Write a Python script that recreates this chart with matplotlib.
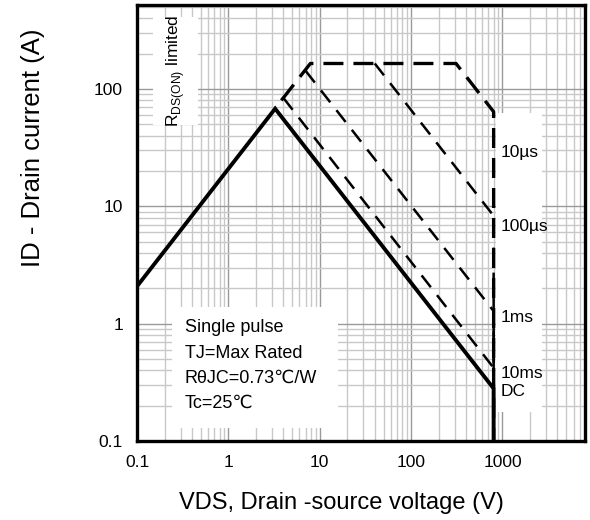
import matplotlib
matplotlib.use('Agg')
import matplotlib.pyplot as plt
from matplotlib.patches import Rectangle
from matplotlib.ticker import LogLocator, FixedLocator, NullFormatter

plt.rcParams['font.family'] = ['Liberation Sans', 'DejaVu Sans']

# SOA curves (V, A)
dc_v = [0.1, 3.25, 800, 800]
dc_i = [2.08, 68, 0.28, 0.1]
us10_v = [3.8, 7.9, 310, 800, 800]
us10_i = [80, 165, 165, 64, 0.1]
us100_v = [40, 800, 800]
us100_i = [165, 8.3, 0.1]
ms1_v = [7.0, 800, 800]
ms1_i = [143, 1.28, 0.1]
ms10_v = [4.0, 800, 800]
ms10_i = [84, 0.42, 0.1]

curve_labels = ['10µs', '100µs', '1ms', '10ms', 'DC']
x_ticks = [0.1, 1, 10, 100, 1000]
x_ticklabels = ['0.1', '1', '10', '100', '1000']
y_ticks = [0.1, 1, 10, 100]
y_ticklabels = ['0.1', '1', '10', '100']
note_lines = ['Single pulse', 'TJ=Max Rated', 'RθJC=0.73℃/W', 'Tc=25℃']

fig = plt.figure(figsize=(5.9, 5.2), dpi=100)
ax = fig.add_axes([137 / 590, 79 / 520, 448 / 590, 436 / 520])
ax.set_xscale('log')
ax.set_yscale('log')
ax.set_xlim(0.1, 8000)
ax.set_ylim(0.1, 520)

ax.xaxis.set_major_locator(FixedLocator(x_ticks))
ax.set_xticklabels(x_ticklabels)
ax.yaxis.set_major_locator(FixedLocator(y_ticks))
ax.set_yticklabels(y_ticklabels)
ax.xaxis.set_minor_locator(LogLocator(base=10, subs=range(2, 10), numticks=20))
ax.yaxis.set_minor_locator(LogLocator(base=10, subs=range(2, 10), numticks=20))
ax.xaxis.set_minor_formatter(NullFormatter())
ax.yaxis.set_minor_formatter(NullFormatter())
ax.tick_params(which='both', length=0, labelsize=12.5, pad=10)

ax.grid(True, which='major', color='#9a9a9a', linewidth=1.0, zorder=0)
ax.grid(True, which='minor', color='#c8c8c8', linewidth=1.0, zorder=0)
ax.set_axisbelow(True)

for s in ax.spines.values():
    s.set_linewidth(2.4)
    s.set_color('black')

# white boxes hiding the grid behind the notes
def wbox(x0, y0, x1, y1):
    ax.add_patch(Rectangle((x0, y0), x1 - x0, y1 - y0, transform=ax.transAxes,
                           facecolor='white', edgecolor='none', zorder=1))

def ax_xy(px, py):
    return (px - 137) / 448, (441 - py) / 436

x0, y1 = ax_xy(153, 17); x1, y0 = ax_xy(198, 125)
wbox(x0, y0, x1, y1)
x0, y1 = ax_xy(172, 307); x1, y0 = ax_xy(338, 428)
wbox(x0, y0, x1, y1)
x0, y1 = ax_xy(496, 113); x1, y0 = ax_xy(542, 412)
wbox(x0, y0, x1, y1)

thin = dict(color='black', linewidth=1.8, linestyle=(0, (6, 4)), zorder=3)
ax.plot(ms10_v, ms10_i, **thin)
ax.plot(ms1_v, ms1_i, **thin)
ax.plot(us100_v, us100_i, **thin)
ax.plot(us10_v, us10_i, color='black', linewidth=2.4, linestyle=(0, (6, 3)), zorder=3)
ax.plot(dc_v, dc_i, color='black', linewidth=2.8, solid_joinstyle='miter', zorder=4)

# right-hand curve labels
lab_y = [153, 226, 318, 374, 392]
for txt, py in zip(curve_labels, lab_y):
    ax.text(*ax_xy(501, py), txt, transform=ax.transAxes, fontsize=12.5,
            ha='left', va='center', zorder=5)

ax.text(*ax_xy(176, 71), r'R$_{\mathregular{DS(ON)}}$ limited', transform=ax.transAxes,
        rotation=90, fontsize=12.5, ha='center', va='center', zorder=5)

for k, line in enumerate(note_lines):
    ax.text(*ax_xy(185, 328 + 25 * k), line, transform=ax.transAxes, fontsize=13,
            ha='left', va='center', zorder=5)

fig.text(341 / 590, 1 - 503 / 520, 'VDS, Drain -source voltage (V)', fontsize=17,
         ha='center', va='center')
fig.text(33 / 590, 1 - 148 / 520, 'ID - Drain current (A)', fontsize=18.5,
         ha='center', va='center', rotation=90)

fig.savefig('out.png', dpi=100)
